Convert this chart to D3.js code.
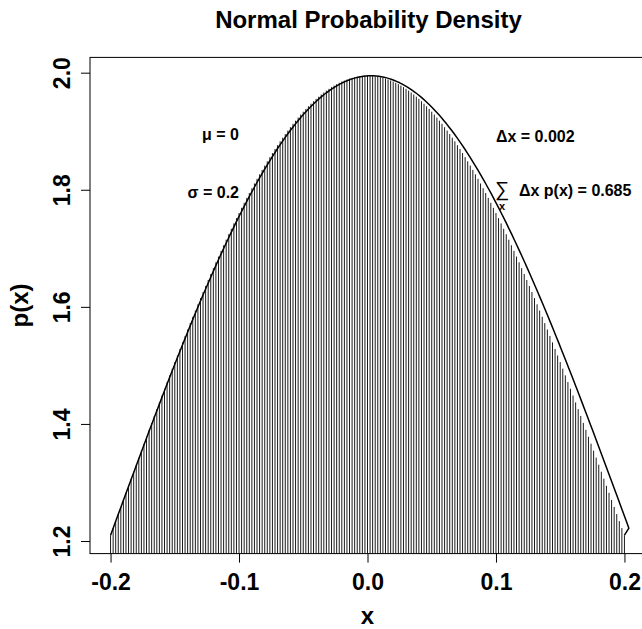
<!DOCTYPE html>
<html>
<head>
<meta charset="utf-8">
<script src="https://cdn.jsdelivr.net/npm/d3@7"></script>
<style>
  html, body { margin: 0; padding: 0; background: #fff; }
  svg { display: block; font-family: "Liberation Sans", Arial, Helvetica, sans-serif; }
</style>
</head>
<body>
<svg id="chart" width="642" height="629"></svg>
<script>
// ---------------- data ----------------
const xLow = -0.2, xHigh = 0.2, dx = 0.002;
const xs = d3.range(0, 201).map(i => +(xLow + i * dx).toFixed(3));
const density = [
1.2099,1.2220,1.2340,1.2461,1.2582,1.2703,1.2824,1.2944,1.3064,1.3184,
1.3304,1.3424,1.3543,1.3662,1.3781,1.3899,1.4017,1.4135,1.4252,1.4368,
1.4485,1.4600,1.4715,1.4830,1.4944,1.5057,1.5169,1.5281,1.5393,1.5503,
1.5613,1.5722,1.5830,1.5937,1.6043,1.6149,1.6253,1.6357,1.6459,1.6561,
1.6661,1.6761,1.6859,1.6956,1.7052,1.7147,1.7241,1.7333,1.7425,1.7515,
1.7603,1.7691,1.7777,1.7861,1.7945,1.8026,1.8107,1.8186,1.8263,1.8339,
1.8413,1.8486,1.8558,1.8627,1.8696,1.8762,1.8827,1.8890,1.8952,1.9011,
1.9069,1.9126,1.9180,1.9233,1.9284,1.9333,1.9381,1.9426,1.9470,1.9512,
1.9552,1.9590,1.9627,1.9661,1.9693,1.9724,1.9753,1.9779,1.9804,1.9827,
1.9848,1.9866,1.9883,1.9898,1.9911,1.9922,1.9931,1.9938,1.9943,1.9946,
1.9947,
1.9946,1.9943,1.9938,1.9931,1.9922,1.9911,1.9898,1.9883,1.9866,1.9848,
1.9827,1.9804,1.9779,1.9753,1.9724,1.9693,1.9661,1.9627,1.9590,1.9552,
1.9512,1.9470,1.9426,1.9381,1.9333,1.9284,1.9233,1.9180,1.9126,1.9069,
1.9011,1.8952,1.8890,1.8827,1.8762,1.8696,1.8627,1.8558,1.8486,1.8413,
1.8339,1.8263,1.8186,1.8107,1.8026,1.7945,1.7861,1.7777,1.7691,1.7603,
1.7515,1.7425,1.7333,1.7241,1.7147,1.7052,1.6956,1.6859,1.6761,1.6661,
1.6561,1.6459,1.6357,1.6253,1.6149,1.6043,1.5937,1.5830,1.5722,1.5613,
1.5503,1.5393,1.5281,1.5169,1.5057,1.4944,1.4830,1.4715,1.4600,1.4485,
1.4368,1.4252,1.4135,1.4017,1.3899,1.3781,1.3662,1.3543,1.3424,1.3304,
1.3184,1.3064,1.2944,1.2824,1.2703,1.2582,1.2461,1.2340,1.2220,1.2099
];
const xTicks = [-0.2, -0.1, 0.0, 0.1, 0.2];
const xTickLabels = ["-0.2", "-0.1", "0.0", "0.1", "0.2"];
const yTicks = [1.2, 1.4, 1.6, 1.8, 2.0];
const yTickLabels = ["1.2", "1.4", "1.6", "1.8", "2.0"];
const titleText = "Normal Probability Density";
const xLabel = "x", yLabel = "p(x)";
const muLabel = "\u03BC = 0", sigmaLabel = "\u03C3 = 0.2";
const dxLabel = "\u0394x = 0.002", sumLabel = "\u0394x p(x) = 0.685";

// ---------------- layout ----------------
(function draw() {
const svg = d3.select("#chart");
const W = 642, H = 629;
svg.append("rect").attr("width", W).attr("height", H).attr("fill", "#fff");

const pLeft = 90, pRight = 645, pTop = 57.4, pBottom = 553.6;
const xExt = (xHigh - xLow) * 0.04;
const x = d3.scaleLinear().domain([xLow - xExt, xHigh + xExt]).range([pLeft, pRight]);
const yMin = d3.min(density), yMax = d3.max(density);
const yExt = (yMax - yMin) * 0.04;
const y = d3.scaleLinear().domain([yMin - yExt, yMax + yExt]).range([pBottom, pTop]);

const data = xs.map((v, i) => ({ x: v, p: density[i] }));

// bars (type = "h")
svg.append("g").selectAll("line").data(data).join("line")
  .attr("x1", d => x(d.x)).attr("x2", d => x(d.x))
  .attr("y1", pBottom).attr("y2", d => y(d.p))
  .attr("stroke", "#000").attr("stroke-width", 0.9);

// curve (slightly stretched horizontally as in the reference rendering)
const n = data.length;
const xCurve = d3.scaleLinear().domain([xs[0], xs[n - 2]]).range([x(xs[0]), x(xs[n - 2]) + 7]);
const line = d3.line().x((d, i) => i === n - 1 ? x(d.x) : xCurve(d.x)).y(d => y(d.p));
svg.append("path").datum(data).attr("d", line)
  .attr("fill", "none").attr("stroke", "#000").attr("stroke-width", 1.5)
  .attr("stroke-linejoin", "round");

// box
svg.append("rect").attr("x", pLeft).attr("y", pTop)
  .attr("width", pRight - pLeft).attr("height", pBottom - pTop)
  .attr("fill", "none").attr("stroke", "#000").attr("stroke-width", 1);

// x axis
const xAxis = svg.append("g").attr("transform", `translate(0,${pBottom})`)
  .call(d3.axisBottom(x).tickValues(xTicks).tickSize(9).tickSizeOuter(0)
    .tickFormat((d, i) => xTickLabels[i]));
xAxis.select(".domain").remove();
xAxis.selectAll("line").attr("stroke", "#000");
xAxis.selectAll("text").attr("dy", null)
  .attr("y", 36.5)
  .attr("fill", "#000").attr("font-size", 23).attr("font-weight", "bold")
  .attr("font-family", "Liberation Sans, Arial, sans-serif");

// y axis
const yAxis = svg.append("g").attr("transform", `translate(${pLeft},0)`)
  .call(d3.axisLeft(y).tickValues(yTicks).tickSize(9).tickSizeOuter(0)
    .tickFormat((d, i) => yTickLabels[i]));
yAxis.select(".domain").remove();
yAxis.selectAll("line").attr("stroke", "#000");
yAxis.selectAll("text")
  .attr("x", null).attr("dy", null)
  .attr("transform", "translate(-20,0) rotate(-90)")
  .attr("text-anchor", "middle")
  .attr("fill", "#000").attr("font-size", 23).attr("font-weight", "bold")
  .attr("font-family", "Liberation Sans, Arial, sans-serif");

// title & axis labels
svg.append("text").attr("x", (pLeft + pRight) / 2 + 1).attr("y", 28)
  .attr("text-anchor", "middle").attr("font-size", 24).attr("font-weight", "bold")
  .text(titleText);
svg.append("text").attr("x", (pLeft + pRight) / 2).attr("y", 624)
  .attr("text-anchor", "middle").attr("font-size", 24).attr("font-weight", "bold")
  .text(xLabel);
svg.append("text").attr("transform", `translate(28,${(pTop + pBottom) / 2}) rotate(-90)`)
  .attr("text-anchor", "middle").attr("font-size", 24).attr("font-weight", "bold")
  .text(yLabel);

// annotations
const ann = svg.append("g").attr("font-size", 16).attr("font-weight", "bold");
ann.append("text").attr("x", x(-0.1)).attr("y", y(1.894)).attr("dy", "0.35em")
  .attr("text-anchor", "end").text(muLabel);
ann.append("text").attr("x", x(-0.1)).attr("y", y(1.795)).attr("dy", "0.35em")
  .attr("text-anchor", "end").text(sigmaLabel);
ann.append("text").attr("x", x(0.1)).attr("y", y(1.891)).attr("dy", "0.35em")
  .attr("text-anchor", "start").text(dxLabel);
// summation expression
const sx = x(0.1) - 1, sy = y(1.7984);
ann.append("text").attr("x", sx).attr("y", sy + 5)
  .attr("font-size", 20).attr("font-weight", "normal")
  .attr("font-family", "Liberation Sans, DejaVu Sans, sans-serif").text("\u2211");
ann.append("text").attr("x", sx + 4).attr("y", sy + 19)
  .attr("font-size", 11).text("x");
ann.append("text").attr("x", sx + 24).attr("y", sy).attr("dy", "0.35em")
  .attr("text-anchor", "start").text(sumLabel);
})();
</script>
</body>
</html>
